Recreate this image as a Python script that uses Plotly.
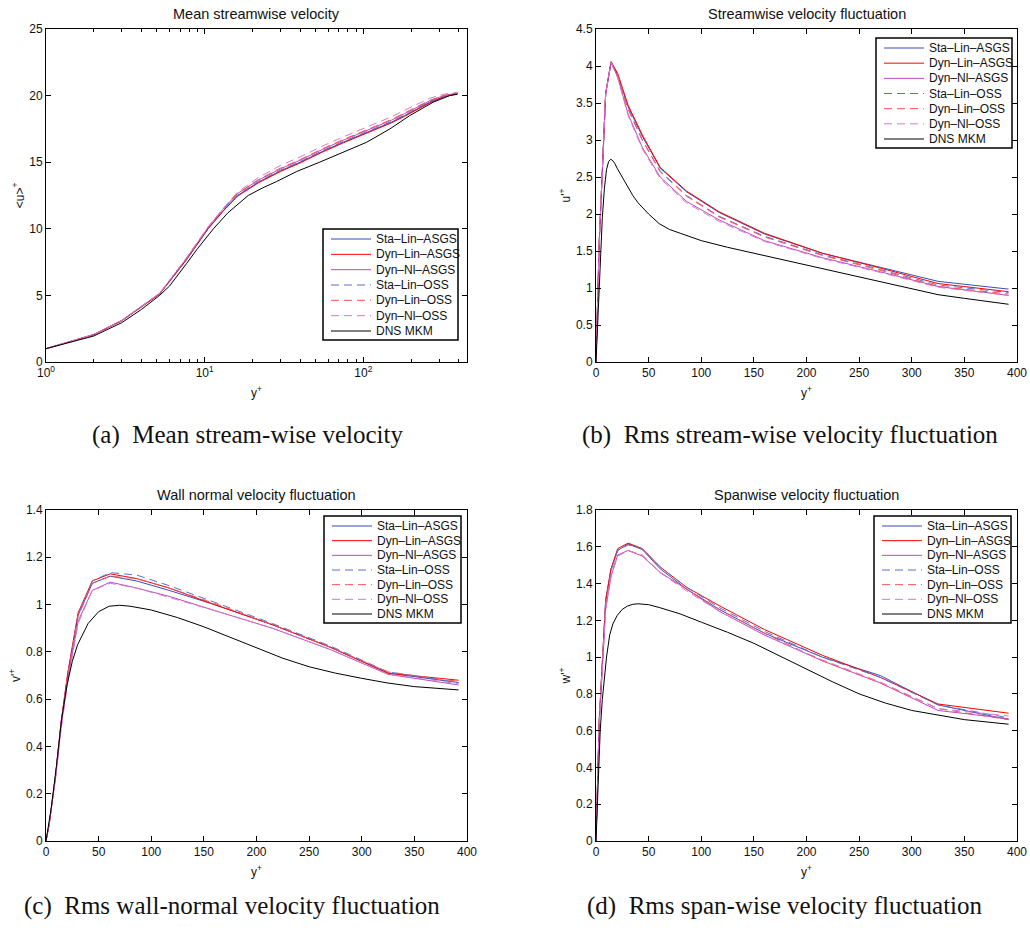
import plotly.graph_objects as go

# ---------------- data ----------------
NAMES = ["Sta\u2013Lin\u2013ASGS", "Dyn\u2013Lin\u2013ASGS", "Dyn\u2013Nl\u2013ASGS",
         "Sta\u2013Lin\u2013OSS", "Dyn\u2013Lin\u2013OSS", "Dyn\u2013Nl\u2013OSS", "DNS MKM"]

# (a) mean streamwise velocity
ya_les = [1, 2, 3, 5.2, 7.7, 10.5, 13, 16.1, 21.8, 30, 40, 55, 74.6, 95, 121, 150, 182, 220, 262, 320, 392]
ua_sta_lin_asgs = [1.0, 2.05, 3.1, 5.1, 7.7, 10.0, 11.3, 12.5, 13.5, 14.35, 15.0, 15.8, 16.5, 17.0, 17.5, 18.0, 18.5, 19.0, 19.5, 19.9, 20.15]
ua_dyn_lin_asgs = [1.0, 2.05, 3.1, 5.1, 7.7, 10.0, 11.3, 12.45, 13.45, 14.3, 14.95, 15.75, 16.45, 16.95, 17.45, 17.95, 18.45, 18.95, 19.45, 19.9, 20.15]
ua_dyn_nl_asgs = [1.0, 2.07, 3.12, 5.15, 7.8, 10.1, 11.45, 12.65, 13.65, 14.5, 15.15, 15.95, 16.65, 17.15, 17.65, 18.15, 18.65, 19.15, 19.6, 20.0, 20.2]
ua_sta_lin_oss = [1.0, 2.05, 3.1, 5.12, 7.75, 10.05, 11.4, 12.55, 13.55, 14.4, 15.05, 15.85, 16.55, 17.05, 17.55, 18.05, 18.55, 19.05, 19.55, 19.95, 20.15]
ua_dyn_lin_oss = [1.0, 2.06, 3.11, 5.14, 7.8, 10.1, 11.45, 12.65, 13.7, 14.55, 15.2, 16.0, 16.7, 17.2, 17.7, 18.2, 18.7, 19.2, 19.65, 20.0, 20.2]
ua_dyn_nl_oss = [1.0, 2.08, 3.13, 5.17, 7.85, 10.15, 11.5, 12.75, 13.85, 14.75, 15.4, 16.2, 16.9, 17.4, 17.9, 18.4, 18.9, 19.35, 19.8, 20.1, 20.25]
ya_dns = [1, 2, 3, 4, 5.2, 6, 7.7, 9, 11.35, 14, 18.8, 23, 28.4, 38, 53, 75, 105, 147, 196, 275, 350, 392]
ua_dns = [1.0, 1.95, 2.95, 3.95, 5.0, 5.7, 7.4, 8.5, 10.0, 11.2, 12.5, 13.05, 13.55, 14.3, 15.0, 15.75, 16.5, 17.5, 18.5, 19.5, 20.0, 20.1]

# LES grid for fluctuations
y_les = [0, 3, 9.2, 14.3, 20.6, 30.5, 44, 61, 86, 117, 160, 215, 270, 325, 392]

# (b) streamwise fluctuation
ub_sta_lin_asgs = [0, 1.6, 3.63, 4.05, 3.88, 3.45, 3.05, 2.62, 2.3, 2.02, 1.73, 1.47, 1.28, 1.09, 0.985]
ub_dyn_lin_asgs = [0, 1.6, 3.63, 4.06, 3.9, 3.47, 3.07, 2.63, 2.31, 2.03, 1.74, 1.47, 1.27, 1.06, 0.95]
ub_dyn_nl_asgs = [0, 1.6, 3.62, 4.05, 3.85, 3.35, 2.9, 2.5, 2.17, 1.92, 1.64, 1.41, 1.22, 1.02, 0.9]
ub_sta_lin_oss = [0, 1.6, 3.63, 4.05, 3.87, 3.42, 3.0, 2.58, 2.25, 1.97, 1.70, 1.45, 1.25, 1.04, 0.94]
ub_dyn_lin_oss = [0, 1.6, 3.63, 4.05, 3.87, 3.42, 3.0, 2.57, 2.24, 1.96, 1.69, 1.44, 1.24, 1.02, 0.92]
ub_dyn_nl_oss = [0, 1.6, 3.62, 4.04, 3.84, 3.33, 2.88, 2.48, 2.15, 1.9, 1.63, 1.40, 1.21, 1.01, 0.9]
yb_dns = [0, 1, 2, 3, 4, 5, 6, 8, 10, 12, 14, 16, 18, 20, 25, 30, 35, 40, 50, 60, 70, 80, 100, 125, 150, 175, 200, 250, 300, 325, 350, 392]
ub_dns = [0, 0.36, 0.72, 1.05, 1.38, 1.68, 1.95, 2.35, 2.6, 2.71, 2.74, 2.72, 2.68, 2.62, 2.5, 2.38, 2.25, 2.15, 2.0, 1.87, 1.79, 1.74, 1.64, 1.55, 1.47, 1.39, 1.31, 1.14, 0.98, 0.91, 0.86, 0.78]

# (c) wall-normal fluctuation
vc_sta_lin_asgs = [0, 0.07, 0.28, 0.5, 0.7, 0.955, 1.09, 1.12, 1.1, 1.06, 1.0, 0.915, 0.82, 0.71, 0.67]
vc_dyn_lin_asgs = [0, 0.07, 0.28, 0.5, 0.71, 0.965, 1.1, 1.13, 1.11, 1.07, 1.0, 0.915, 0.82, 0.71, 0.68]
vc_dyn_nl_asgs = [0, 0.07, 0.27, 0.48, 0.68, 0.93, 1.06, 1.095, 1.07, 1.035, 0.975, 0.9, 0.81, 0.705, 0.66]
vc_sta_lin_oss = [0, 0.07, 0.28, 0.5, 0.7, 0.96, 1.1, 1.135, 1.125, 1.08, 1.01, 0.92, 0.825, 0.715, 0.67]
vc_dyn_lin_oss = [0, 0.07, 0.28, 0.5, 0.7, 0.95, 1.09, 1.12, 1.11, 1.07, 1.005, 0.915, 0.82, 0.715, 0.675]
vc_dyn_nl_oss = [0, 0.07, 0.27, 0.47, 0.67, 0.92, 1.06, 1.09, 1.07, 1.03, 0.975, 0.9, 0.81, 0.705, 0.665]
yc_dns = [0, 5, 10, 15, 20, 25, 30, 40, 50, 60, 70, 80, 100, 125, 150, 175, 200, 225, 250, 275, 300, 325, 350, 392]
vc_dns = [0, 0.14, 0.32, 0.52, 0.66, 0.76, 0.83, 0.92, 0.97, 0.993, 0.997, 0.993, 0.977, 0.945, 0.906, 0.862, 0.815, 0.773, 0.737, 0.71, 0.688, 0.668, 0.653, 0.639]

# (d) spanwise fluctuation
wd_sta_lin_asgs = [0, 0.65, 1.31, 1.48, 1.58, 1.615, 1.585, 1.48, 1.37, 1.26, 1.13, 1.0, 0.9, 0.74, 0.66]
wd_dyn_lin_asgs = [0, 0.65, 1.31, 1.48, 1.59, 1.62, 1.59, 1.49, 1.38, 1.28, 1.15, 1.01, 0.89, 0.745, 0.695]
wd_dyn_nl_asgs = [0, 0.63, 1.26, 1.44, 1.555, 1.58, 1.55, 1.46, 1.37, 1.25, 1.12, 0.98, 0.86, 0.71, 0.665]
wd_sta_lin_oss = [0, 0.65, 1.3, 1.47, 1.58, 1.61, 1.59, 1.49, 1.38, 1.27, 1.14, 1.0, 0.89, 0.74, 0.67]
wd_dyn_lin_oss = [0, 0.64, 1.28, 1.45, 1.55, 1.58, 1.55, 1.46, 1.37, 1.26, 1.13, 0.98, 0.86, 0.72, 0.66]
wd_dyn_nl_oss = [0, 0.63, 1.26, 1.44, 1.55, 1.58, 1.555, 1.46, 1.36, 1.25, 1.12, 0.985, 0.865, 0.72, 0.68]
yd_dns = [0, 2, 4, 6, 8, 10, 13, 16, 20, 25, 30, 35, 40, 50, 60, 80, 100, 125, 150, 175, 200, 225, 250, 275, 300, 325, 350, 392]
wd_dns = [0, 0.35, 0.6, 0.77, 0.9, 1.0, 1.12, 1.18, 1.225, 1.26, 1.278, 1.287, 1.29, 1.285, 1.27, 1.235, 1.19, 1.135, 1.075, 1.005, 0.935, 0.865, 0.8, 0.75, 0.71, 0.685, 0.66, 0.635]

TITLES = ["Mean streamwise velocity", "Streamwise velocity fluctuation",
          "Wall normal velocity fluctuation", "Spanwise velocity fluctuation"]
YLABELS = ["&lt;u&gt;<sup>+</sup>", "u'<sup>+</sup>", "v'<sup>+</sup>", "w'<sup>+</sup>"]
CAPTIONS = ["(a)\u00a0 Mean stream-wise velocity", "(b)\u00a0 Rms stream-wise velocity fluctuation",
            "(c)\u00a0 Rms wall-normal velocity fluctuation", "(d)\u00a0 Rms span-wise velocity fluctuation"]

# ---------------- styles ----------------
STYLES = [
    dict(color="#3b4db8", width=1),
    dict(color="#ff0000", width=1),
    dict(color="#c048c0", width=1),
    dict(color="#5c70cc", width=1, dash="8px,5px"),
    dict(color="#ff5050", width=1, dash="8px,5px"),
    dict(color="#d27ad2", width=1, dash="8px,5px"),
    dict(color="#000000", width=1),
]

W, H = 1030, 930
FONT = "Liberation Sans, Arial, sans-serif"
TXT = "#111111"

panels = [
    (ya_les, [ua_sta_lin_asgs, ua_dyn_lin_asgs, ua_dyn_nl_asgs, ua_sta_lin_oss, ua_dyn_lin_oss, ua_dyn_nl_oss], ya_dns, ua_dns),
    (y_les, [ub_sta_lin_asgs, ub_dyn_lin_asgs, ub_dyn_nl_asgs, ub_sta_lin_oss, ub_dyn_lin_oss, ub_dyn_nl_oss], yb_dns, ub_dns),
    (y_les, [vc_sta_lin_asgs, vc_dyn_lin_asgs, vc_dyn_nl_asgs, vc_sta_lin_oss, vc_dyn_lin_oss, vc_dyn_nl_oss], yc_dns, vc_dns),
    (y_les, [wd_sta_lin_asgs, wd_dyn_lin_asgs, wd_dyn_nl_asgs, wd_sta_lin_oss, wd_dyn_lin_oss, wd_dyn_nl_oss], yd_dns, wd_dns),
]

# pixel boxes of plot areas (left, right, top, bottom)
boxes = [(46, 467, 29, 362), (596, 1017, 29, 362), (46, 467, 510, 841), (596, 1017, 510, 841)]
# legend boxes (left, top, width, height)
legbox = [(323, 229, 135, 111), (876, 38, 136, 110), (324, 516, 137, 107), (874, 516, 137, 107)]
yranges = [[0, 25], [0, 4.5], [0, 1.4], [0, 1.8]]
ydticks = [5, 0.5, 0.2, 0.2]
caps = [(247, 435), (790, 435), (232, 906), (785, 906)]


def px(x):
    return x / W


def py(y):
    return 1 - y / H


fig = go.Figure()
layout = dict(width=W, height=H, margin=dict(l=0, r=0, t=0, b=0),
              paper_bgcolor="white", plot_bgcolor="white", showlegend=False,
              font=dict(family=FONT, size=12, color=TXT), annotations=[], shapes=[])

for i, (yl, les, yd, dns) in enumerate(panels):
    n = "" if i == 0 else str(i + 1)
    xa, ya_ = "x" + n, "y" + n
    for k in range(6):
        fig.add_trace(go.Scatter(x=yl, y=les[k], mode="lines", name=NAMES[k], line=STYLES[k],
                                 xaxis=xa, yaxis=ya_))
    fig.add_trace(go.Scatter(x=yd, y=dns, mode="lines", name=NAMES[6], line=STYLES[6],
                             xaxis=xa, yaxis=ya_))
    l, r, t, b = boxes[i]
    common = dict(showline=True, linecolor="black", linewidth=1, mirror="ticks", ticks="inside",
                  ticklen=5, tickcolor="black", showgrid=False, zeroline=False, automargin=False,
                  tickfont=dict(family=FONT, size=12, color=TXT))
    if i == 0:
        xax = dict(common, domain=[px(l), px(r)], anchor=ya_, type="log", range=[0, 2.6532],
                   tickvals=[1, 10, 100], ticktext=["10<sup>0</sup>", "10<sup>1</sup>", "10<sup>2</sup>"],
                   minor=dict(tickvals=[2, 3, 4, 5, 6, 7, 8, 9, 20, 30, 40, 50, 60, 70, 80, 90, 200, 300, 400],
                              ticks="inside", ticklen=3, tickcolor="black"))
    else:
        xax = dict(common, domain=[px(l), px(r)], anchor=ya_, range=[0, 400], dtick=50, tick0=0)
    xax["title"] = dict(text="y<sup>+</sup>", font=dict(family=FONT, size=12, color=TXT), standoff=9)
    yax = dict(common, domain=[py(b), py(t)], anchor=xa, range=yranges[i], dtick=ydticks[i], tick0=0,
               title=dict(text=YLABELS[i], font=dict(family=FONT, size=12, color=TXT), standoff=2))
    layout["xaxis" + n] = xax
    layout["yaxis" + n] = yax

    # panel title
    layout["annotations"].append(dict(text=TITLES[i], x=px((l + r) / 2), y=py(t - 5), xref="paper", yref="paper",
                                      xanchor="center", yanchor="bottom", showarrow=False,
                                      font=dict(family=FONT, size=14.5, color=TXT)))
    # sub-figure caption
    cx, cy = caps[i]
    layout["annotations"].append(dict(text=CAPTIONS[i], x=px(cx), y=py(cy), xref="paper", yref="paper",
                                      xanchor="center", yanchor="middle", showarrow=False,
                                      font=dict(family="Liberation Serif, serif", size=25, color=TXT)))

    # legend (MATLAB style box)
    bl, bt, bw, bh = legbox[i]
    layout["shapes"].append(dict(type="rect", xref="paper", yref="paper",
                                 x0=px(bl), x1=px(bl + bw), y0=py(bt + bh), y1=py(bt),
                                 fillcolor="white", line=dict(color="black", width=1.5), layer="above"))
    step = (bh - 19) / 6.0
    for k in range(7):
        yy = bt + 10 + step * k
        st = STYLES[k]
        layout["shapes"].append(dict(type="line", xref="paper", yref="paper",
                                     x0=px(bl + 8), x1=px(bl + 48), y0=py(yy), y1=py(yy), layer="above",
                                     line=dict(color=st["color"], width=st["width"], dash=st.get("dash", "solid"))))
        layout["annotations"].append(dict(text=NAMES[k], x=px(bl + 51), y=py(yy), xref="paper", yref="paper",
                                          xanchor="left", yanchor="middle", showarrow=False,
                                          font=dict(family=FONT, size=12, color=TXT)))

fig.update_layout(**layout)
fig.write_html("out.html")
